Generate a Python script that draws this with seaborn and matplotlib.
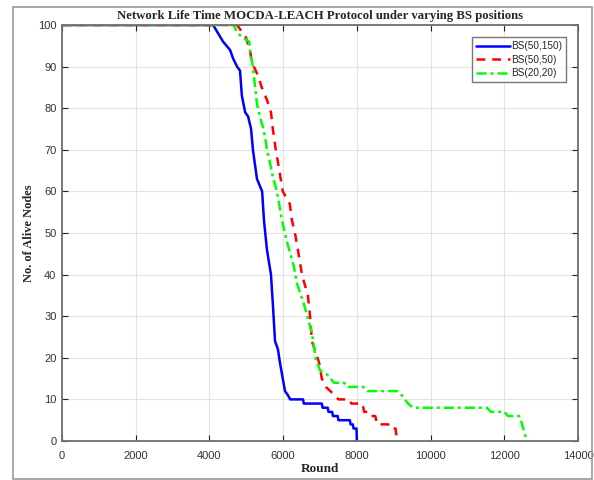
import matplotlib
matplotlib.use("Agg")
import matplotlib.pyplot as plt
import seaborn as sns
import pandas as pd
from matplotlib.patches import Rectangle

# ---- data ----
blue_rounds = [0, 4100, 4370, 4560, 4640, 4750, 4830, 4880, 4970, 5050, 5130, 5180, 5290, 5430,
               5480, 5560, 5670, 5720, 5780, 5860, 5910, 5990, 6050, 6130, 6190, 6540, 6560, 7050,
               7070, 7210, 7230, 7330, 7350, 7480, 7500, 7810, 7830, 7890, 7910, 7990, 8000]
blue_alive = [100, 100, 96, 94, 92, 90, 89, 83, 79, 78, 75, 70, 63, 60,
              53, 46, 40, 33, 24, 22, 19, 15, 12, 11, 10, 10, 9, 9,
              8, 8, 7, 7, 6, 6, 5, 5, 4, 4, 3, 3, 0]

red_rounds = [0, 4750, 4990, 5100, 5150, 5310, 5420, 5560, 5670, 5720, 5800, 5860, 5990, 6180,
              6240, 6320, 6400, 6510, 6670, 6730, 6780, 6970, 7050, 7160, 7400, 7500, 7800, 7850,
              8150, 8200, 8300, 8350, 8500, 8550, 8850, 8900, 9050, 9090]
red_alive = [100, 100, 97, 94, 91, 88, 85, 82, 79, 75, 70, 67, 60, 57,
             53, 50, 46, 40, 35, 30, 24, 19, 15, 13, 11, 10, 10, 9,
             9, 7, 7, 6, 6, 4, 4, 3, 3, 0]

green_rounds = [0, 4650, 4770, 4900, 5080, 5110, 5160, 5210, 5240, 5290, 5370, 5450, 5510, 5560,
                5640, 5720, 5830, 5910, 5970, 6020, 6100, 6290, 6370, 6560, 6780, 6890, 7000, 7190,
                7380, 7650, 7730, 8170, 8280, 9090, 9220, 9390, 9520, 11530, 11640, 12000, 12100,
                12400, 12450, 12610]
green_alive = [100, 100, 98, 97, 96, 93, 91, 87.5, 85, 81, 78, 75.5, 73, 70,
               67, 63.5, 60, 56, 53, 51, 48, 42, 38, 33, 26, 19.5, 17, 16,
               14, 14, 13, 13, 12, 12, 11, 9, 8, 8, 7, 7, 6,
               6, 5, 0]

labels = ["BS(50,150)", "BS(50,50)", "BS(20,20)"]
x_ticks = [0, 2000, 4000, 6000, 8000, 10000, 12000, 14000]
y_ticks = [0, 10, 20, 30, 40, 50, 60, 70, 80, 90, 100]

title = "Network Life Time MOCDA-LEACH Protocol under varying BS positions"
xlabel = "Round"
ylabel = "No. of Alive Nodes"

# ---- style ----
sns.set_style("ticks")
plt.rcParams["font.family"] = ["Liberation Sans", "DejaVu Sans"]
serif = ["Liberation Serif", "DejaVu Serif"]

fig = plt.figure(figsize=(5.94, 4.8), dpi=100)
ax = fig.add_axes([62 / 594, 1 - 441 / 480, (578 - 62) / 594, (441 - 25) / 480])

# figure frame
fig.patches.append(Rectangle((13 / 594, 1 - 479 / 480), (592 - 13) / 594, (479 - 7) / 480,
                             transform=fig.transFigure, fill=False, edgecolor="#9a9a9a",
                             linewidth=1.2))

series = [
    (blue_rounds, blue_alive, labels[0], (0, 0, 1), ""),
    (red_rounds, red_alive, labels[1], (1, 0, 0), (3.5, 2.8)),
    (green_rounds, green_alive, labels[2], (0, 1, 0), (4, 1.6, 1.2, 1.6)),
]
for xs, ys, lab, col, dash in series:
    df = pd.DataFrame({"Round": xs, "Alive": ys})
    sns.lineplot(data=df, x="Round", y="Alive", ax=ax, sort=False, estimator=None,
                 color=col, linewidth=1.8, label=lab)
    l = ax.get_lines()[-1]
    if dash:
        l.set_dashes(dash)

ax.set_xlim(0, 14000)
ax.set_ylim(0, 100)
ax.set_xticks(x_ticks)
ax.set_yticks(y_ticks)
ax.grid(True, color="#e3e3e3", linewidth=0.8)
ax.set_axisbelow(True)
for s in ax.spines.values():
    s.set_visible(True)
    s.set_color("#6e6e6e")
    s.set_linewidth(1.3)
ax.tick_params(direction="in", top=True, right=True, length=4, width=0.8, color="#222222",
               labelsize=8, labelcolor="#333333")
ax.tick_params(axis="x", pad=7)
ax.tick_params(axis="y", pad=4)

ax.set_title(title, fontsize=9.2, fontweight="bold", family=serif, pad=4)
ax.set_xlabel(xlabel, fontsize=9.5, fontweight="bold", family=serif, labelpad=2)
ax.set_ylabel(ylabel, fontsize=9, fontweight="bold", family=serif, labelpad=2)

leg = ax.legend(loc="upper right", bbox_to_anchor=(0.977, 0.97), fontsize=7.2, frameon=True,
                fancybox=False, handlelength=3.4, handletextpad=0.15, borderpad=0.4,
                labelspacing=0.35, borderaxespad=0)
leg.get_frame().set_edgecolor("#555555")
leg.get_frame().set_linewidth(1.0)

fig.savefig("out.png", dpi=100)
